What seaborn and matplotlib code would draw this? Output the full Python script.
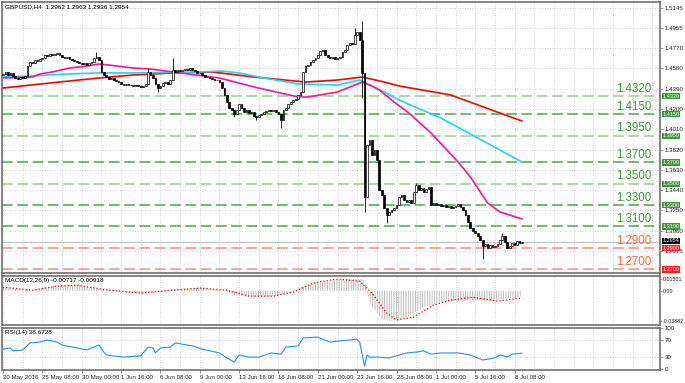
import numpy as np
import pandas as pd
import seaborn as sns
import matplotlib.pyplot as plt

sns.set_theme(style="white")
plt.rcParams['font.family'] = ['Liberation Sans', 'DejaVu Sans']
plt.rcParams['hatch.linewidth'] = 0.7

header = "GBPUSD,H4  1.2962 1.2963 1.2936 1.2954"
macd_title = "MACD(12,26,9) -0.00717 -0.00918"
rsi_title = "RSI(14) 38.6728"

# H4 closes, one per bar
first_open = 1.4518
closes = [
    1.4527, 1.4546, 1.4518, 1.4537, 1.4509, 1.4490, 1.4480, 1.4499, 1.4490, 1.4509,
    1.4602, 1.4640, 1.4630, 1.4658, 1.4649, 1.4668, 1.4677, 1.4705, 1.4696, 1.4714,
    1.4705, 1.4714, 1.4724, 1.4705, 1.4686, 1.4677, 1.4686, 1.4668, 1.4658, 1.4649,
    1.4640, 1.4630, 1.4621, 1.4630, 1.4611, 1.4630, 1.4640, 1.4677, 1.4686, 1.4658,
    1.4546, 1.4518, 1.4499, 1.4480, 1.4490, 1.4471, 1.4462, 1.4452, 1.4433, 1.4424,
    1.4433, 1.4424, 1.4424, 1.4415, 1.4424, 1.4415, 1.4405, 1.4415, 1.4433, 1.4546,
    1.4518, 1.4490, 1.4433, 1.4396, 1.4415, 1.4443, 1.4452, 1.4433, 1.4471, 1.4565,
    1.4546, 1.4565, 1.4555, 1.4565, 1.4574, 1.4565, 1.4583, 1.4565, 1.4555, 1.4537,
    1.4537, 1.4518, 1.4499, 1.4499, 1.4490, 1.4480, 1.4471, 1.4471, 1.4452, 1.4396,
    1.4331, 1.4265, 1.4209, 1.4190, 1.4153, 1.4190, 1.4246, 1.4209, 1.4171, 1.4190,
    1.4162, 1.4171, 1.4134, 1.4125, 1.4143, 1.4153, 1.4171, 1.4181, 1.4190, 1.4181,
    1.4190, 1.4171, 1.4153, 1.4097, 1.4190, 1.4209, 1.4246, 1.4265, 1.4284, 1.4293,
    1.4331, 1.4359, 1.4546, 1.4602, 1.4611, 1.4640, 1.4658, 1.4677, 1.4705, 1.4743,
    1.4752, 1.4705, 1.4686, 1.4677, 1.4686, 1.4668, 1.4677, 1.4686, 1.4733, 1.4752,
    1.4799, 1.4818, 1.4808, 1.4892, 1.4920, 1.4845, 1.4537, 1.3376, 1.3863, 1.3910,
    1.3769, 1.3816, 1.3723, 1.3441, 1.3395, 1.3273, 1.3208, 1.3236, 1.3254, 1.3273,
    1.3301, 1.3376, 1.3395, 1.3348, 1.3329, 1.3348, 1.3320, 1.3423, 1.3488, 1.3441,
    1.3460, 1.3423, 1.3451, 1.3470, 1.3301, 1.3320, 1.3301, 1.3310, 1.3292, 1.3301,
    1.3282, 1.3292, 1.3273, 1.3282, 1.3292, 1.3310, 1.3282, 1.3254, 1.3208, 1.3142,
    1.3086, 1.3058, 1.3039, 1.3011, 1.2973, 1.2917, 1.2936, 1.2898, 1.2927, 1.2908,
    1.2917, 1.2936, 1.2973, 1.3011, 1.2955, 1.2898, 1.2917, 1.2945, 1.2927, 1.2964,
    1.2945, 1.2954,
]
# visible wick extremes (bar index -> price)
wick_highs = {38: 1.4733, 59: 1.4583, 69: 1.4677, 143: 1.4958, 146: 1.5023,
              168: 1.3507, 203: 1.3039}
wick_lows = {63: 1.4359, 94: 1.4125, 103: 1.4097, 113: 1.4022, 146: 1.4303,
             147: 1.3236, 156: 1.3133, 195: 1.2796}

# moving averages, points
ma_fast_bars = [0, 12, 15, 20, 27, 34, 39, 43, 53, 60, 72, 88, 102, 120, 124, 136,
                143, 146, 150, 153, 159, 165, 174, 185, 190, 197, 202, 211]
ma_fast = [1.4490, 1.4499, 1.4527, 1.4546, 1.4583, 1.4602, 1.4621, 1.4611, 1.4583,
           1.4574, 1.4537, 1.4490, 1.4406, 1.4312, 1.4312, 1.4359, 1.4424, 1.4452,
           1.4415, 1.4378, 1.4265, 1.4162, 1.3975, 1.3704, 1.3563, 1.3320, 1.3236,
           1.3170]
ma_mid_bars = [0, 12, 26, 39, 53, 79, 89, 96, 106, 120, 136, 145, 148, 155, 161,
               178, 202, 211]
ma_mid = [1.4499, 1.4509, 1.4527, 1.4537, 1.4537, 1.4546, 1.4555, 1.4537, 1.4490,
          1.4434, 1.4424, 1.4471, 1.4434, 1.4359, 1.4284, 1.4115, 1.3816, 1.3703]
ma_slow_bars = [0, 19, 39, 53, 69, 85, 102, 123, 136, 146, 155, 161, 182, 202, 211]
ma_slow = [1.4396, 1.4443, 1.4490, 1.4518, 1.4537, 1.4546, 1.4499, 1.4452, 1.4471,
           1.4499, 1.4452, 1.4415, 1.4331, 1.4162, 1.4087]

levels_green = [1.4320, 1.4150, 1.3950, 1.3700, 1.3500, 1.3300, 1.3100]
levels_green_light = [True, False, True, False, True, False, False]
levels_red = [1.2900, 1.2700]
last_price = 1.2954

price_ticks = [1.5145, 1.4955, 1.4770, 1.4580, 1.4390, 1.4200, 1.4010, 1.3820,
               1.3630, 1.3440, 1.3250, 1.3060, 1.2875]

macd_bars = [0, 12, 20, 30, 40, 50, 57, 65, 72, 80, 88, 95, 102, 110, 116, 122, 128,
             135, 142, 146, 147, 149, 154, 157, 160, 164, 171, 178, 191, 198, 205, 211]
macd_main = [0.004, 0.001, 0.006, 0.008, 0.002, -0.002, -0.004, -0.001, 0.002, 0.004,
             0.001, -0.006, -0.008, -0.007, -0.003, 0.006, 0.011, 0.014, 0.015, 0.015,
             0.013, -0.016, -0.036, -0.0388, -0.038, -0.034, -0.021, -0.0145, -0.012,
             -0.013, -0.0094, -0.0072]
signal_bars = [0, 12, 22, 30, 43, 56, 69, 80, 91, 100, 110, 118, 126, 134, 137, 145,
               150, 156, 160, 167, 175, 182, 191, 201, 211]
macd_signal = [0.0047, 0.0009, 0.0060, 0.0073, 0.0009, -0.0029, 0.0009, 0.0035,
               0.0009, -0.0068, -0.0068, -0.0017, 0.0099, 0.0145, 0.0150, 0.0124,
               -0.0029, -0.0286, -0.0376, -0.0337, -0.0183, -0.0119, -0.0081,
               -0.0132, -0.0092]
macd_ticks = [0.01501, 0.0, -0.03882]
macd_tick_labels = ['0.01501', '0.00', '-0.03882']

rsi_bars = [0, 3, 4, 8, 11, 15, 18, 22, 24, 30, 34, 39, 41, 42, 49, 56, 59, 61, 62,
            64, 68, 70, 77, 81, 88, 91, 94, 96, 100, 104, 109, 113, 115, 120, 122,
            128, 130, 133, 137, 141, 144, 145, 147, 148, 149, 152, 157, 161, 164,
            168, 171, 174, 178, 185, 190, 193, 195, 200, 202, 205, 207, 211]
rsi = [48, 51, 44, 46, 63, 65, 70, 65, 58, 51, 46, 58, 41, 34, 29, 32, 53, 51, 39,
       51, 53, 63, 56, 48, 39, 27, 17, 34, 29, 29, 39, 36, 53, 56, 75, 77, 72, 65,
       68, 70, 72, 65, 7, 34, 29, 29, 27, 34, 39, 41, 44, 36, 39, 39, 34, 27, 22,
       27, 34, 29, 36, 38.67]

date_labels = ['20 May 2016', '25 May 08:00', '30 May 00:00', '1 Jun 16:00',
               '6 Jun 08:00', '9 Jun 00:00', '13 Jun 16:00', '16 Jun 08:00',
               '21 Jun 00:00', '23 Jun 16:00', '28 Jun 08:00', '1 Jul 00:00',
               '5 Jul 16:00', '8 Jul 08:00']

# ---------------------------------------------------------------------------
W, H = 685, 383
fig = plt.figure(figsize=(W / 100, H / 100), dpi=100)
fig.patch.set_facecolor('white')


def panel(top, bottom):
    return fig.add_axes([2 / W, 1 - bottom / H, 658 / W, (bottom - top) / H])


ax = panel(2, 273)
ax_macd = panel(275.5, 325)
ax_rsi = panel(327.5, 369.5)

grid_kw = dict(color='#c4c4c4', linestyle=(0, (1, 2)), linewidth=0.6)
major_x = np.arange(0, 16 * len(date_labels), 16)
minor_x = np.arange(8, 268, 8)

for a in (ax, ax_macd, ax_rsi):
    a.set_facecolor('white')
    a.set_xlim(-0.4, 267.1)
    for s in a.spines.values():
        s.set_color('#707070')
        s.set_linewidth(1.2)
    a.yaxis.tick_right()
    a.tick_params(axis='y', right=True, labelsize=4.4, length=2, width=0.5,
                  color='#808080', pad=1.5, labelcolor='#202020')
    a.set_xticks(major_x)
    a.set_xticks(minor_x, minor=True)
    a.tick_params(axis='x', which='both', length=0, labelbottom=False)
    a.grid(True, which='both', axis='x', **grid_kw)
    a.set_axisbelow(True)

# ---- price panel ----------------------------------------------------------
bars = pd.DataFrame({'bar': np.arange(len(closes)),
                     'open': [first_open] + closes[:-1],
                     'close': closes})
bars['high'] = bars[['open', 'close']].max(axis=1)
bars['low'] = bars[['open', 'close']].min(axis=1)
for k, v in wick_highs.items():
    bars.loc[k, 'high'] = v
for k, v in wick_lows.items():
    bars.loc[k, 'low'] = v
up = bars['close'] >= bars['open']

ax.set_ylim(1.26646, 1.52012)
ax.set_yticks(price_ticks)
ax.set_yticklabels([f'{t:.4f}' for t in price_ticks])
ax.grid(True, axis='y', **grid_kw)

box_kw = dict(transform=ax.get_yaxis_transform(), ha='left', va='center',
              fontsize=4.0, color='white', clip_on=False)
for lvl, light in zip(levels_green, levels_green_light):
    col = '#93cf93' if light else '#45a845'
    ax.axhline(lvl, color=col, lw=1.1, dashes=(7, 3), zorder=1)
    ax.text(263.8, lvl + 0.0012, f'{lvl:.4f}', ha='right', va='bottom',
            fontsize=8.3, color='#3f9a3f', zorder=2)
    ax.text(1.004, lvl, f'{lvl:.4f}', zorder=5,
            bbox=dict(boxstyle='square,pad=0.12', fc='#3a9a3a', ec='none'), **box_kw)
for lvl in levels_red:
    ax.axhline(lvl, color='#ff8a80', lw=1.1, dashes=(7, 3), zorder=1)
    ax.text(263.8, lvl + 0.0012, f'{lvl:.4f}', ha='right', va='bottom',
            fontsize=8.3, color='#ff6a3d', zorder=2)
    ax.text(1.004, lvl - 0.0004, f'{lvl:.4f}', zorder=5,
            bbox=dict(boxstyle='square,pad=0.12', fc='#ff1a1a', ec='none'), **box_kw)

ax.axhline(last_price, color='#c0c0c0', lw=0.8, zorder=1)
ax.text(1.004, last_price + 0.0012, f'{last_price:.4f}', zorder=6,
        bbox=dict(boxstyle='square,pad=0.12', fc='black', ec='none'), **box_kw)

sns.lineplot(x=ma_slow_bars, y=ma_slow, color='#ff0000', linewidth=1.2, ax=ax, zorder=3)
sns.lineplot(x=ma_mid_bars, y=ma_mid, color='#1ed6f5', linewidth=1.2, ax=ax, zorder=3)
sns.lineplot(x=ma_fast_bars, y=ma_fast, color='#ff1493', linewidth=1.2, ax=ax, zorder=3)

ax.vlines(bars['bar'], bars['low'], bars['high'], color='black', lw=0.6, zorder=4)
ax.bar(bars['bar'][up], (bars['close'] - bars['open'])[up], bottom=bars['open'][up],
       width=0.7, color='white', edgecolor='black', linewidth=0.5, zorder=4)
ax.bar(bars['bar'][~up], (bars['close'] - bars['open'])[~up], bottom=bars['open'][~up],
       width=0.7, color='black', edgecolor='black', linewidth=0.5, zorder=4)

ax.text(0.004, 0.99, header, transform=ax.transAxes, ha='left', va='top',
        fontsize=4.6, color='black')

# ---- MACD panel -----------------------------------------------------------
ax_macd.set_ylim(-0.04397, 0.01975)
ax_macd.set_yticks(macd_ticks)
ax_macd.set_yticklabels(macd_tick_labels)
ax_macd.tick_params(axis='y', labelsize=3.8, pad=0.8, length=1.5)
ax_macd.fill_between(macd_bars, 0, macd_main, facecolor='none', edgecolor='#bcbcbc',
                     linewidth=0, hatch='|||||||', zorder=2)
sns.lineplot(x=signal_bars, y=macd_signal, color='#ff0000', linewidth=0.9,
             linestyle=(0, (1, 1.6)), ax=ax_macd, zorder=3)
ax_macd.text(0.004, 0.95, macd_title, transform=ax_macd.transAxes, ha='left',
             va='top', fontsize=4.6, color='black')

# ---- RSI panel ------------------------------------------------------------
ax_rsi.set_ylim(-0.7, 100)
ax_rsi.set_yticks([100, 70, 30, 0])
ax_rsi.set_yticklabels(['100', '70', '30', '0'])
for lvl in (70, 30):
    ax_rsi.axhline(lvl, **grid_kw)
sns.lineplot(x=rsi_bars, y=rsi, color='#1e90ff', linewidth=0.8, ax=ax_rsi, zorder=3)
ax_rsi.text(0.004, 0.95, rsi_title, transform=ax_rsi.transAxes, ha='left',
            va='top', fontsize=4.6, color='black')
ax_rsi.set_xticklabels(date_labels)
ax_rsi.tick_params(axis='x', which='major', bottom=True, length=2.5, width=0.5,
                   color='#606060', labelbottom=True, labelsize=4.4, pad=1.5,
                   labelcolor='#202020')
for lab in ax_rsi.get_xticklabels():
    lab.set_horizontalalignment('left')

for a in (ax, ax_macd, ax_rsi):
    a.set_xlabel('')
    a.set_ylabel('')

fig.savefig('out.png', dpi=100)
